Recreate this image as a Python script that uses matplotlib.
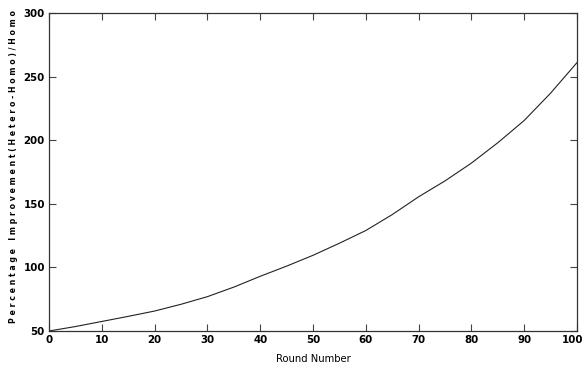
import matplotlib
matplotlib.use("Agg")
import matplotlib.pyplot as plt
from matplotlib.transforms import ScaledTranslation

rounds = [0, 5, 10, 15, 20, 25, 30, 35, 40, 45, 50, 55, 60, 65, 70, 75, 80, 85, 90, 95, 100]
improvement = [50, 53.5, 57.5, 61.5, 65.7, 71, 77, 84.5, 93, 101, 109.5, 119, 129, 141.5, 155.5, 168, 182, 198, 215.5, 237, 261]
xticks = [0, 10, 20, 30, 40, 50, 60, 70, 80, 90, 100]
yticks = [50, 100, 150, 200, 250, 300]

fam = "DejaVu Sans"

fig = plt.figure(figsize=(5.84, 3.70), dpi=100)
ax = fig.add_axes([49/584, 1-331/370, (577-49)/584, (331-13)/370])
ax.plot(rounds, improvement, color="#222222", lw=0.8)
ax.set_xlim(0, 100)
ax.set_ylim(50, 300)
ax.set_xticks(xticks)
ax.set_yticks(yticks)
ax.tick_params(direction="in", top=True, right=True, length=5, width=0.8, color="#444444", pad=3)
for lab in ax.get_xticklabels() + ax.get_yticklabels():
    lab.set_fontfamily(fam)
    lab.set_fontstretch("condensed")
    lab.set_fontweight("bold")
    lab.set_fontsize(8.2)
last = ax.get_xticklabels()[-1]
last.set_transform(last.get_transform() + ScaledTranslation(-4/100, 0, fig.dpi_scale_trans))
for s in ax.spines.values():
    s.set_color("#333333")
    s.set_linewidth(0.9)
ax.set_xlabel("Round Number", fontfamily=fam, fontstretch="condensed", fontsize=8, labelpad=6)
ylabel = "Percentage Improvement(Hetero-Homo)/Homo"
fig.text(14/584, 1-167/370, " ".join(ylabel), rotation=90, ha="center", va="center",
         fontfamily=fam, fontstretch="condensed", fontsize=6.2, fontweight="bold")
fig.savefig("out.png", dpi=100)
